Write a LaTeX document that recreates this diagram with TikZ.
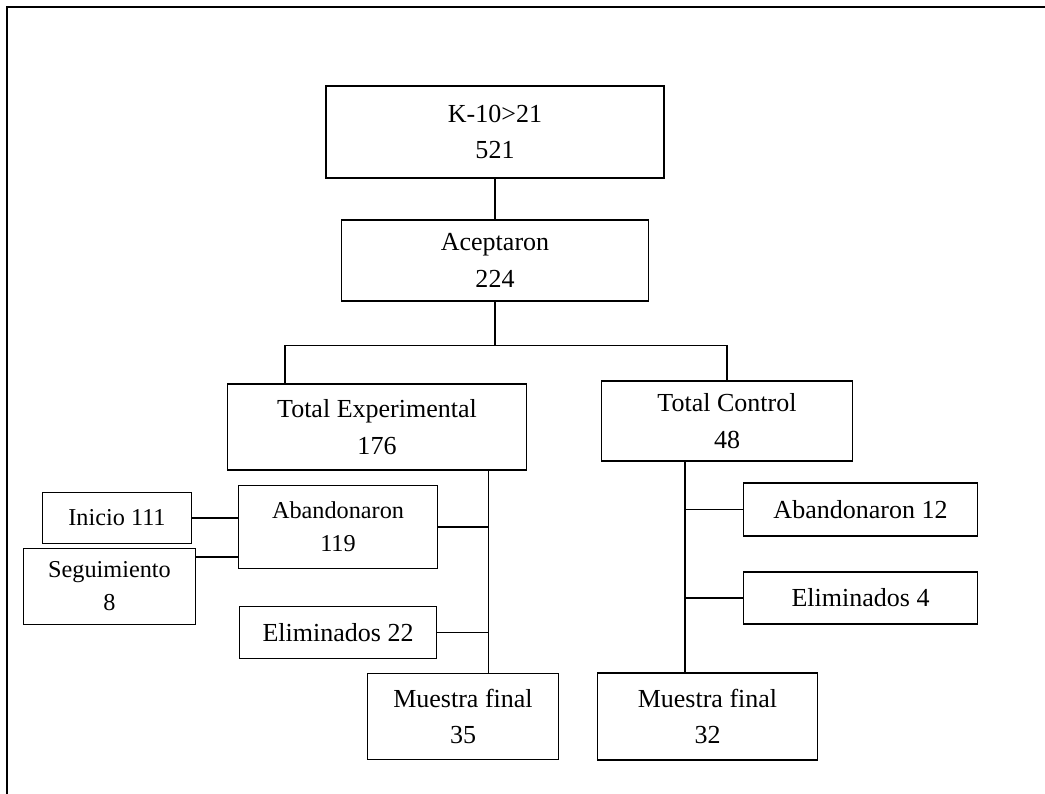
\documentclass[tikz,border=0pt]{standalone}
\usepackage{fontspec}
\setmainfont{Liberation Serif}

\tikzstyle{boxNode} = [rectangle, draw=black, line width=0.8pt, text centered, align=center, inner sep=0pt, font=\fontsize{14.8}{21}\selectfont]
\tikzstyle{boxNodeSmall} = [boxNode, font=\fontsize{13.8}{18.8}\selectfont]
\tikzstyle{link} = [line width=0.8pt]

\begin{document}
\begin{tikzpicture}[node distance=2cm]
    \useasboundingbox (0,0) rectangle (20.9,-15.88);
    \draw [line width=1.2pt] (0.14,-0.14) rectangle (21.5,-16.5);

    \node (screen)[boxNode, minimum width=6.76cm, minimum height=1.84cm] at (9.9,-2.64) {K-10>21\\521};
    \node (accept)[boxNode, minimum width=6.14cm, minimum height=1.62cm, below of=screen, yshift=-0.57cm] {Aceptaron\\224};
    \node (total_exp)[boxNode, minimum width=5.98cm, minimum height=1.72cm, below of=accept, xshift=-2.36cm, yshift=-1.33cm] {Total Experimental\\176};
    \node (total_ctrl)[boxNode, minimum width=5.02cm, minimum height=1.6cm, right of=total_exp, xshift=5cm, yshift=0.12cm] {Total Control\\48};

    \node (drop_exp)[boxNodeSmall, minimum width=3.98cm, minimum height=1.66cm, below of=total_exp, xshift=-0.78cm] {Abandonaron\\119};
    \node (start)[boxNodeSmall, minimum width=2.98cm, minimum height=1.02cm, left of=drop_exp, xshift=-2.42cm, yshift=0.18cm] {Inicio 111};
    \node (follow)[boxNodeSmall, minimum width=3.44cm, minimum height=1.52cm, below of=start, xshift=-0.15cm, yshift=0.63cm] {Seguimiento\\8};
    \node (elim_exp)[boxNode, minimum width=3.94cm, minimum height=1.04cm, below of=drop_exp, yshift=-0.11cm] {Eliminados 22};
    \node (final_exp)[boxNode, minimum width=3.82cm, minimum height=1.72cm, below of=elim_exp, xshift=2.5cm, yshift=0.32cm] {Muestra final\\35};

    \node (drop_ctrl)[boxNode, minimum width=4.68cm, minimum height=1.06cm, below of=total_ctrl, xshift=2.67cm, yshift=0.23cm] {Abandonaron 12};
    \node (elim_ctrl)[boxNode, minimum width=4.68cm, minimum height=1.04cm, below of=drop_ctrl, yshift=0.23cm] {Eliminados 4};
    \node (final_ctrl)[boxNode, minimum width=4.4cm, minimum height=1.74cm, right of=final_exp, xshift=2.89cm] {Muestra final\\32};

    \draw [link] (screen) -- (accept);
    \draw [link] (accept.south) -- ++(0,-0.88) coordinate (split);
    \draw [link] ([xshift=1.16cm]total_exp.north west) |- (split) -| (total_ctrl.north);

    % tronco experimental
    \coordinate (exp_top) at ([xshift=-0.78cm]total_exp.south east);
    \draw [link] (exp_top) -- (exp_top |- final_exp.north);
    \draw [link] (drop_exp.east) -- (drop_exp.east -| exp_top);
    \draw [link] (elim_exp.east) -- (elim_exp.east -| exp_top);
    \draw [link] (start.east) -- (start.east -| drop_exp.west);
    \draw [link] ([yshift=-0.18cm]follow.north east) -- ([yshift=-0.18cm]follow.north east -| drop_exp.west);

    % tronco control
    \coordinate (ctrl_top) at ([xshift=-0.84cm]total_ctrl.south);
    \draw [link] (ctrl_top) -- (ctrl_top |- final_ctrl.north);
    \draw [link] (drop_ctrl.west) -- (drop_ctrl.west -| ctrl_top);
    \draw [link] (elim_ctrl.west) -- (elim_ctrl.west -| ctrl_top);
\end{tikzpicture}
\end{document}
